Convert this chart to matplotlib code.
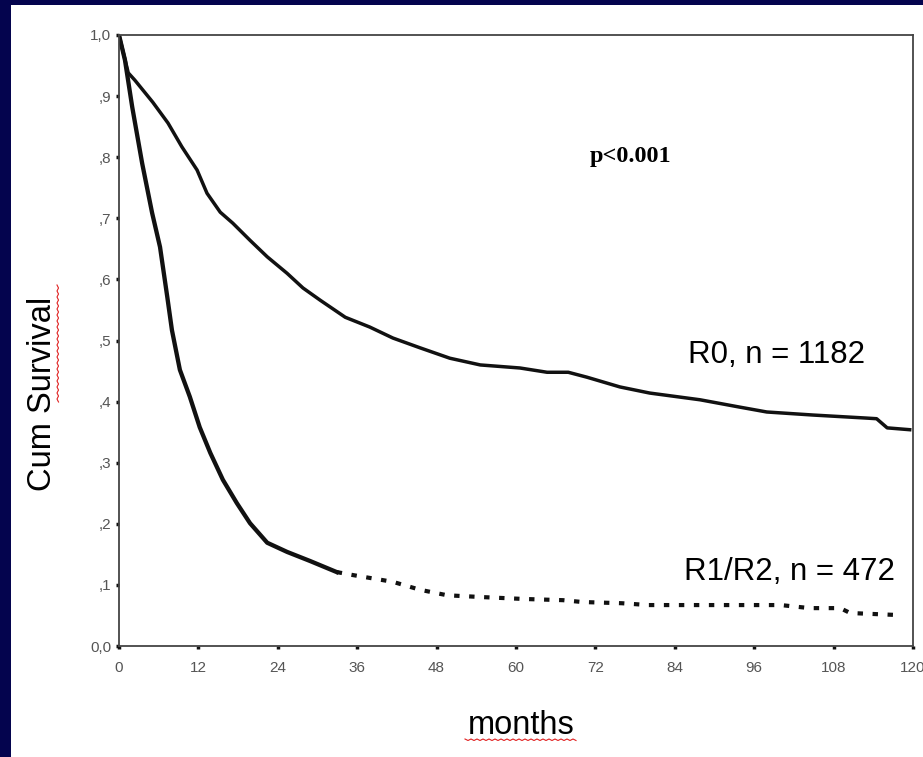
import numpy as np
import matplotlib
matplotlib.use("Agg")
from matplotlib import pyplot as plt
from matplotlib.lines import Line2D
from matplotlib.patches import Rectangle

# R0 resection, n = 1182
r0_months = [0, 1.4, 2.4, 5.1, 7.4, 9.5, 11.8, 13.3, 15.3, 17.2, 19.8, 22.4, 25.4,
             27.8, 30.4, 34.2, 37.9, 41.4, 45.5, 50.0, 54.6, 60.6, 64.7, 67.9,
             70.7, 75.7, 80.2, 87.8, 93.8, 97.9, 104.9, 113.0, 114.5, 116.1, 119.5]
r0_surv = [1.0, 0.938, 0.926, 0.890, 0.856, 0.817, 0.779, 0.741, 0.710, 0.692,
           0.664, 0.637, 0.610, 0.586, 0.566, 0.538, 0.522, 0.504, 0.488, 0.471,
           0.460, 0.455, 0.448, 0.448, 0.440, 0.424, 0.414, 0.403, 0.391, 0.383,
           0.378, 0.373, 0.372, 0.357, 0.354]

# R1/R2 resection, n = 472
r12_months = [0, 0.9, 2.0, 3.5, 5.0, 6.2, 7.3, 8.0, 9.2, 10.7, 12.2, 13.8, 15.7,
              17.8, 19.8, 22.4, 25.4, 28.9, 32.9, 35.4, 41.4, 45.5, 49.6, 55.0,
              61.1, 67.1, 70.0, 76.0, 80.0, 91.0, 100.0, 104.4, 109.0, 110.5, 117.0]
r12_surv = [1.0, 0.959, 0.882, 0.790, 0.709, 0.653, 0.571, 0.517, 0.452, 0.408,
            0.358, 0.316, 0.272, 0.234, 0.201, 0.169, 0.154, 0.139, 0.121, 0.116,
            0.105, 0.092, 0.083, 0.080, 0.077, 0.075, 0.072, 0.070, 0.067, 0.067,
            0.067, 0.062, 0.062, 0.054, 0.051]
r12_dotted_from = 18  # index where the curve turns dotted (~33 months)

x_ticks = list(range(0, 121, 12))
y_ticks = [0.0, 0.1, 0.2, 0.3, 0.4, 0.5, 0.6, 0.7, 0.8, 0.9, 1.0]
y_tick_labels = ["0,0", ",1", ",2", ",3", ",4", ",5", ",6", ",7", ",8", ",9", "1,0"]

W, H = 923, 757
plt.rcParams["font.family"] = ["Liberation Sans", "DejaVu Sans"]

fig = plt.figure(figsize=(W / 100, H / 100), dpi=100)
fig.patch.set_facecolor("#04044e")
fig.add_artist(Rectangle((11 / W, 0), 1 - 11 / W, 1 - 5 / H,
                         transform=fig.transFigure, facecolor="white",
                         edgecolor="none", zorder=0))


def fx(px):
    return px / W


def fy(py):
    return 1 - py / H


ax = fig.add_axes([fx(119), fy(646), 794 / W, 611 / H])
ax.set_facecolor("white")

line_color = "#111111"
ax.plot(r0_months, r0_surv, color=line_color, lw=2.5, solid_joinstyle="round")
k = r12_dotted_from
ax.plot(r12_months[:k + 1], r12_surv[:k + 1], color=line_color, lw=3.1,
        solid_joinstyle="round")
ax.plot(r12_months[k:], r12_surv[k:], color=line_color, lw=3.0,
        linestyle=(0, (1.3, 2.3)))

ax.set_xlim(0, 120)
ax.set_ylim(0, 1.0)
ax.set_xticks(x_ticks)
ax.set_yticks(y_ticks)
ax.set_yticklabels(y_tick_labels)
for s in ax.spines.values():
    s.set_color("#444444")
    s.set_linewidth(1.3)
ax.tick_params(direction="out", length=2.5, width=2.5, color="#111111",
               labelsize=11, labelcolor="#555555")
ax.tick_params(axis="x", pad=8)
ax.tick_params(axis="y", pad=3)

fig.text(fx(590), fy(162), "p<0.001", family=["Liberation Serif"],
         fontweight="bold", fontsize=17.5, ha="left", va="baseline")
fig.text(fx(688), fy(363), "R0, n = 1182", fontsize=22.5, ha="left",
         va="baseline")
fig.text(fx(684), fy(580), "R1/R2, n = 472", fontsize=22.5, ha="left",
         va="baseline")

fig.text(fx(43), fy(394), "Cum Survival", fontsize=23.5, rotation=90,
         ha="center", va="center")
fig.text(fx(521), fy(734), "months", fontsize=23.5, ha="center",
         va="baseline")

# red spell-check squiggles
zx = np.arange(465, 578, 3)
zy = 739 + 1.5 * (np.arange(len(zx)) % 2)
fig.add_artist(Line2D(fx(zx), fy(zy), color="#e02020", lw=0.8,
                      transform=fig.transFigure))
vy = np.arange(285, 404, 3)
vx = 57 + 1.5 * (np.arange(len(vy)) % 2)
fig.add_artist(Line2D(fx(vx), fy(vy), color="#e02020", lw=0.8,
                      transform=fig.transFigure))

fig.savefig("out.png", dpi=100, facecolor=fig.get_facecolor())
